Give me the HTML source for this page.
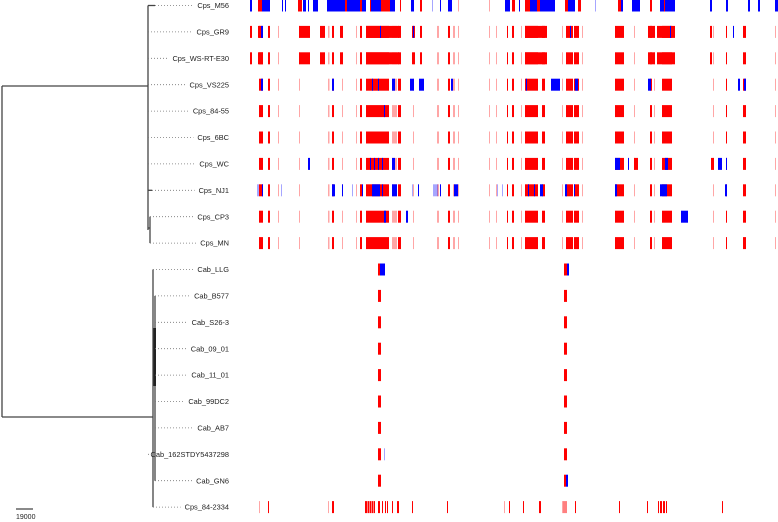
<!DOCTYPE html>
<html><head><meta charset="utf-8"><style>
html,body{margin:0;padding:0;background:#fff;}
svg{display:block;font-family:"Liberation Sans",sans-serif;}
</style></head><body>
<svg id="c" width="778" height="522" xmlns="http://www.w3.org/2000/svg"></svg>
<script>
// taxa (top to bottom)
const taxa = ["Cps_M56","Cps_GR9","Cps_WS-RT-E30","Cps_VS225","Cps_84-55","Cps_6BC","Cps_WC","Cps_NJ1","Cps_CP3","Cps_MN",
 "Cab_LLG","Cab_B577","Cab_S26-3","Cab_09_01","Cab_11_01","Cab_99DC2","Cab_AB7","Cab_162STDY5437298","Cab_GN6","Cps_84-2334"];
// genome positions in kb: [start, end, type]  r=red p=faint red b=blue l=faint blue
const baseBlocks = [[36,52,"r"],[72,80,"r"],[112,116,"p"],[196,200,"p"],[312,318,"p"],[328,336,"r"],[368,372,"p"],[424,428,"p"],[440,448,"r"],[464,556,"r"],[568,588,"p"],[592,604,"r"],[652,656,"p"],[748,756,"p"],[792,800,"r"],[812,820,"p"],[832,836,"p"],[956,960,"p"],[984,988,"p"],[1028,1032,"r"],[1048,1056,"r"],[1084,1088,"p"],[1100,1152,"r"],[1168,1180,"r"],[1248,1252,"p"],[1264,1292,"r"],[1296,1316,"r"],[1328,1332,"p"],[1460,1496,"r"],[1536,1540,"p"],[1600,1608,"r"],[1616,1620,"p"],[1648,1688,"r"],[1852,1856,"p"],[1904,1908,"r"],[1972,1984,"r"],[2100,2104,"p"]];
const m56Blocks = [[0,8,"b"],[32,48,"r"],[48,80,"b"],[128,132,"b"],[140,144,"b"],[192,208,"r"],[212,224,"b"],[232,236,"b"],[252,272,"b"],[308,380,"b"],[380,388,"r"],[388,440,"b"],[440,448,"r"],[448,464,"b"],[480,484,"r"],[484,524,"b"],[524,560,"r"],[560,580,"b"],[600,604,"r"],[644,656,"b"],[680,688,"r"],[728,732,"l"],[760,764,"b"],[792,808,"b"],[832,836,"p"],[956,960,"p"],[1020,1040,"b"],[1048,1060,"r"],[1076,1080,"b"],[1100,1120,"r"],[1120,1148,"b"],[1148,1160,"r"],[1160,1220,"b"],[1260,1272,"r"],[1272,1300,"b"],[1312,1324,"r"],[1380,1384,"l"],[1472,1484,"r"],[1484,1492,"b"],[1528,1560,"b"],[1600,1608,"r"],[1640,1656,"b"],[1656,1660,"r"],[1660,1700,"b"],[1840,1848,"b"],[1904,1912,"b"],[1992,2000,"b"],[2032,2040,"b"],[2100,2112,"b"]];
const gr9Extra = [[0,8,"r"],[32,44,"r"],[44,52,"b"],[196,240,"r"],[280,300,"r"],[360,372,"r"],[464,596,"r"],[520,524,"b"],[648,660,"r"],[652,656,"b"],[680,688,"r"],[1100,1188,"r"],[1280,1284,"b"],[1592,1620,"r"],[1628,1700,"r"],[1680,1684,"b"],[1840,1848,"r"],[1932,1936,"b"]];
const wsExtra = [[0,8,"r"],[32,52,"r"],[196,240,"r"],[280,300,"r"],[360,372,"r"],[464,596,"r"],[648,660,"r"],[680,688,"r"],[1100,1188,"r"],[1592,1620,"r"],[1628,1700,"r"],[1840,1848,"r"]];
const vsExtra = [[44,52,"b"],[328,336,"b"],[488,492,"b"],[512,516,"b"],[568,580,"b"],[640,656,"b"],[676,696,"b"],[804,812,"b"],[1104,1108,"b"],[1204,1240,"b"],[1300,1312,"b"],[1592,1604,"b"],[1952,1960,"b"],[1976,1984,"b"]];
const wcExtra = [[232,240,"b"],[480,484,"b"],[496,500,"b"],[512,516,"b"],[528,532,"b"],[568,580,"b"],[1460,1480,"b"],[1512,1516,"b"],[1536,1552,"r"],[1660,1672,"b"],[1844,1856,"r"],[1872,1888,"b"],[1904,1908,"b"]];
const nj1Extra = [[28,36,"l"],[48,52,"b"],[124,128,"l"],[328,340,"b"],[368,372,"b"],[408,412,"l"],[448,452,"b"],[488,520,"b"],[528,532,"b"],[568,588,"b"],[648,652,"l"],[672,676,"b"],[732,752,"l"],[760,764,"b"],[816,832,"b"],[988,992,"l"],[1008,1012,"l"],[1112,1116,"b"],[1136,1140,"b"],[1160,1172,"b"],[1260,1268,"b"],[1296,1300,"b"],[1460,1468,"b"],[1640,1668,"b"],[1900,1908,"b"]];
const cp3Extra = [[536,544,"b"],[624,632,"b"],[1724,1752,"b"]];
const cabBlocks = [[512,524,"r"],[1256,1268,"r"]];
const llgBlocks = [[512,520,"r"],[520,540,"b"],[1256,1268,"r"],[1268,1276,"b"]];
const c162Blocks = [[512,524,"r"],[536,540,"l"],[1256,1268,"r"]];
const gn6Blocks = [[512,524,"r"],[1256,1264,"r"],[1264,1272,"b"]];
const c2334Blocks = [[36,40,"p"],[72,76,"r"],[312,316,"p"],[328,336,"r"],[460,468,"r"],[470,476,"r"],[478,484,"r"],[486,492,"r"],[494,500,"r"],[512,520,"r"],[528,532,"r"],[540,544,"r"],[548,552,"r"],[568,572,"r"],[588,596,"r"],[648,652,"r"],[788,792,"r"],[1016,1020,"p"],[1036,1040,"r"],[1092,1096,"r"],[1156,1164,"r"],[1248,1252,"p"],[1254,1258,"r"],[1262,1266,"r"],[1300,1304,"r"],[1476,1480,"r"],[1588,1592,"r"],[1632,1636,"r"],[1640,1648,"r"],[1652,1660,"r"],[1664,1668,"r"],[1888,1892,"r"]];
const rowBlocks = [m56Blocks, baseBlocks.concat(gr9Extra), baseBlocks.concat(wsExtra), baseBlocks.concat(vsExtra), baseBlocks.concat([[536,540,"b"]]), baseBlocks, baseBlocks.concat(wcExtra), baseBlocks.concat(nj1Extra), baseBlocks.concat(cp3Extra), baseBlocks,
 llgBlocks, cabBlocks, cabBlocks, cabBlocks, cabBlocks, cabBlocks, cabBlocks, c162Blocks, gn6Blocks, c2334Blocks];

const NS="http://www.w3.org/2000/svg";
const svg=document.getElementById('c');
function xScale(kb){return 250+kb*0.25;}
function yRow(i){return 5.5+i*26.4;}
const colors={r:"#ff0000",p:"rgba(255,0,0,0.35)",b:"#0000ff",l:"rgba(0,0,255,0.35)"};
function mk(tag,attrs,parent){const e=document.createElementNS(NS,tag);for(const k in attrs)e.setAttribute(k,attrs[k]);(parent||svg).appendChild(e);return e;}

// blocks
const gB=mk('g',{});


rowBlocks.forEach((blocks,i)=>{
  const g=mk('g',{},gB);
  
  
  blocks.forEach(b=>{
    const x0=xScale(b[0]),x1=xScale(b[1]);
    const r=mk('rect',{x:x0,y:yRow(i)-6,width:Math.max(1,x1-x0),height:12,fill:colors[b[2]]},g);
    
    
  });
});

// tree
const gT=mk('g',{stroke:"#444","stroke-width":1.3,fill:"none"});


function line(x1,y1,x2,y2,name){const l=mk('line',{x1,y1,x2,y2},gT);}
line(2,86,2,417,'root-branch');
line(2,86,148,86,'cps-clade-branch');
line(2,417,153,417,'cab-clade-branch');
line(148,yRow(0),148,230,'cps-clade-node');
line(148,yRow(0),155,yRow(0),'m56-branch');
line(148,yRow(7),152,yRow(7),'nj1-branch');
line(148,228,150,228,'cp3-mn-branch');
line(150,yRow(8),150,yRow(9),'cp3-mn-node');
line(153,yRow(10),153,yRow(19),'cab-clade-node');
line(155,yRow(11),155,yRow(18),'cab-subclade-node');
mk('rect',{x:153.5,y:328,width:2.5,height:58,fill:"#222",stroke:"none"},gT);
line(16,509,33,509,'scale-bar');

// labels and leaders
const leafX=[155,148,148,148,148,148,148,152,150,150,153,155,155,155,155,155,155,155,155,153];
taxa.forEach((t,i)=>{
  const tx=mk('text',{x:229,y:yRow(i)+2.6,'text-anchor':'end','font-size':7.4,fill:"#222"});
  tx.textContent=t;
  
  
  const w=tx.getComputedTextLength();
  const l=mk('line',{x1:leafX[i],y1:yRow(i),x2:229-w-4,y2:yRow(i),stroke:"#777","stroke-width":0.8,"stroke-dasharray":"1,2"});
  
  
});
const sc=mk('text',{x:16,y:519,'font-size':7,fill:"#222"});
sc.textContent="19000";


</script>
</body></html>
